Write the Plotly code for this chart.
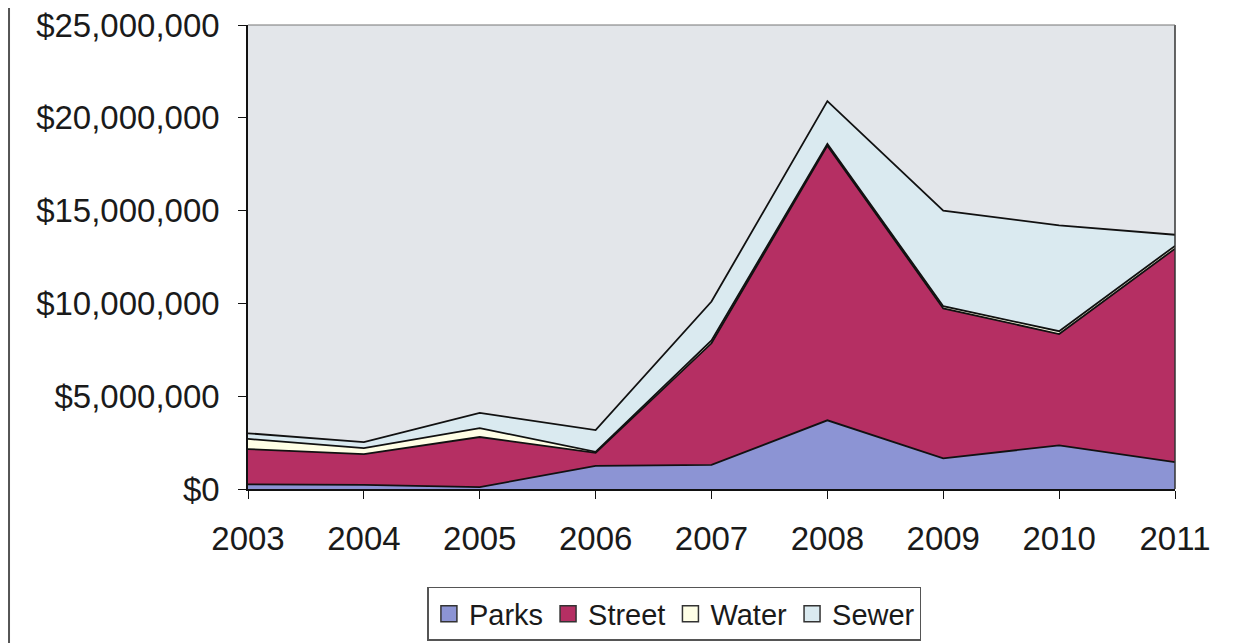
import plotly.graph_objects as go

years = [2003, 2004, 2005, 2006, 2007, 2008, 2009, 2010, 2011]
parks = [250000, 220000, 100000, 1250000, 1300000, 3700000, 1650000, 2350000, 1450000]
street = [1900000, 1660000, 2700000, 700000, 6550000, 14800000, 8080000, 6000000, 11500000]
water = [550000, 320000, 480000, 50000, 150000, 100000, 120000, 150000, 150000]
sewer = [300000, 330000, 820000, 1170000, 2100000, 2300000, 5150000, 5700000, 600000]

series = [
    ("Parks", parks, "#8C94D4"),
    ("Street", street, "#B52F63"),
    ("Water", water, "#FFFFE6"),
    ("Sewer", sewer, "#DAEAF0"),
]

font_family = "Liberation Sans, Arial, sans-serif"

fig = go.Figure()
for name, vals, color in series:
    fig.add_trace(go.Scatter(
        x=years, y=vals, name=name, mode="lines",
        stackgroup="one", fillcolor=color,
        line=dict(color="#111111", width=1.8),
        showlegend=False, hoverinfo="x+y+name",
    ))
for name, vals, color in series:
    fig.add_trace(go.Scatter(
        x=[None], y=[None], name=name, mode="markers",
        marker=dict(symbol="square", size=18, color=color,
                    line=dict(color="#333333", width=1.5)),
        showlegend=True,
    ))

fig.update_layout(
    width=1225, height=635,
    margin=dict(l=240, r=58, t=17, b=154, autoexpand=False),
    paper_bgcolor="white",
    plot_bgcolor="#E3E6EA",
    font=dict(family=font_family, size=33, color="#1a1a1a"),
    showlegend=True,
    legend=dict(
        orientation="h", x=0.46, xanchor="center", y=-0.211, yanchor="top",
        bordercolor="#555555", borderwidth=1.5, bgcolor="white",
        font=dict(family=font_family, size=29, color="#1a1a1a"),
        itemsizing="trace", traceorder="normal", tracegroupgap=0, itemwidth=30,
    ),
    xaxis=dict(
        range=[2003, 2011], tickmode="array", tickvals=years,
        ticktext=[str(y) for y in years],
        showgrid=False, zeroline=False, automargin=False,
        showline=True, linecolor="#111111", linewidth=1.5,
        ticks="outside", ticklen=8, tickcolor="#111111", tickwidth=1.2,
        ticklabelstandoff=12, ticklabeloverflow="allow",
    ),
    yaxis=dict(
        range=[0, 25000000], dtick=5000000, tick0=0,
        tickprefix="$", tickformat=",d", automargin=False,
        showgrid=False, zeroline=False,
        showline=True, linecolor="#111111", linewidth=1.5,
        ticks="outside", ticklen=8, tickcolor="#111111", tickwidth=1.2,
        ticklabelstandoff=12, ticklabeloverflow="allow",
    ),
    shapes=[
        dict(type="line", xref="paper", yref="paper",
             x0=-0.2578, x1=-0.2578, y0=-0.34, y1=1.06,
             line=dict(color="#555555", width=2)),
        dict(type="line", xref="paper", yref="paper",
             x0=1.058, x1=1.058, y0=-0.34, y1=1.06,
             line=dict(color="#dddddd", width=1.5)),
        dict(type="line", xref="paper", yref="paper",
             x0=1, x1=1, y0=0, y1=1,
             line=dict(color="#333333", width=1.5)),
        dict(type="line", xref="paper", yref="paper",
             x0=0, x1=1, y0=1, y1=1,
             line=dict(color="#777777", width=1.2)),
    ],
)

fig.write_html("out.html")
